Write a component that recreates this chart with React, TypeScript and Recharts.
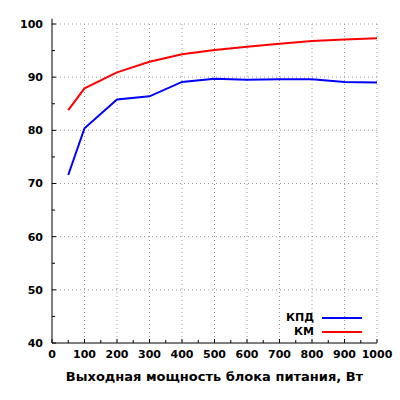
import React from "react";
import {
  LineChart,
  Line,
  XAxis,
  YAxis,
  CartesianGrid,
  ReferenceLine,
} from "recharts";

const POWER = [50, 100, 200, 300, 400, 500, 600, 700, 800, 900, 1000];
const EFFICIENCY = [71.6, 80.4, 85.8, 86.4, 89.1, 89.7, 89.5, 89.6, 89.6, 89.1, 89.0];
const POWER_FACTOR = [83.8, 87.9, 90.9, 92.9, 94.3, 95.1, 95.7, 96.3, 96.8, 97.1, 97.3];

const SERIES = [
  { key: "eff", name: "КПД", color: "#0000ff", values: EFFICIENCY },
  { key: "pf", name: "КМ", color: "#ff0000", values: POWER_FACTOR },
];

const X_TICKS = [0, 50, 100, 150, 200, 250, 300, 350, 400, 450, 500, 550, 600, 650, 700, 750, 800, 850, 900, 950, 1000];
const Y_TICKS = [40, 45, 50, 55, 60, 65, 70, 75, 80, 85, 90, 95, 100];
const X_GRID = [100, 200, 300, 400, 500, 600, 700, 800, 900, 1000];
const Y_GRID = [50, 60, 70, 80, 90, 100];
const X_TITLE = "Выходная мощность блока питания, Вт";

const FONT = "'DejaVu Sans', Verdana, sans-serif";

const data = POWER.map((p, i) => ({
  power: p,
  eff: EFFICIENCY[i],
  pf: POWER_FACTOR[i],
}));

function YTick(props: any) {
  const { x, y, payload } = props;
  const major = payload.value % 10 === 0;
  return (
    <g>
      <line x1={x} x2={x + (major ? 4 : 3)} y1={y} y2={y} stroke="#000" />
      {major && (
        <text
          x={x - 9}
          y={y}
          dy="0.36em"
          textAnchor="end"
          fontFamily={FONT}
          fontWeight="bold"
          fontSize={11}
          fill="#000"
        >
          {payload.value}
        </text>
      )}
    </g>
  );
}

function XTick(props: any) {
  const { x, y, payload } = props;
  const major = payload.value % 100 === 0;
  return (
    <g>
      <line x1={x} x2={x} y1={y} y2={y - (major ? 4 : 3)} stroke="#000" />
      {major && (
        <text
          x={x}
          y={y + 15}
          textAnchor="middle"
          fontFamily={FONT}
          fontWeight="bold"
          fontSize={11}
          fill="#000"
        >
          {payload.value}
        </text>
      )}
    </g>
  );
}

function XTitle(props: any) {
  const vb = props.viewBox;
  return (
    <text
      x={vb.x + vb.width / 2}
      y={vb.y + 38}
      textAnchor="middle"
      fontFamily={FONT}
      fontWeight="bold"
      fontSize={13}
      fill="#000"
    >
      {X_TITLE}
    </text>
  );
}

export default function App() {
  return (
    <div style={{ position: "relative", width: 400, height: 400, background: "#fff" }}>
      <style>{`body{margin:0}`}</style>
      <LineChart
        width={400}
        height={400}
        data={data}
        margin={{ top: 24, right: 23, left: 0, bottom: 0 }}
      >
        <CartesianGrid
          stroke="#999"
          strokeDasharray="1 3"
          horizontalValues={Y_GRID}
          verticalValues={X_GRID}
        />
        <XAxis
          dataKey="power"
          type="number"
          domain={[0, 1000]}
          ticks={X_TICKS}
          interval={0}
          height={57}
          tickSize={0}
          tickMargin={0}
          tickLine={false}
          axisLine={{ stroke: "#000" }}
          tick={<XTick />}
          label={<XTitle />}
        />
        <YAxis
          type="number"
          domain={[40, 100]}
          ticks={Y_TICKS}
          interval={0}
          width={52}
          tickSize={0}
          tickMargin={0}
          tickLine={false}
          axisLine={{ stroke: "#000" }}
          tick={<YTick />}
        />
        <ReferenceLine
          segment={[
            { x: 0, y: 100 },
            { x: 0, y: 101 },
          ]}
          stroke="#000"
          ifOverflow="visible"
        />
        {SERIES.map((s) => (
          <Line
            key={s.key}
            dataKey={s.key}
            name={s.name}
            stroke={s.color}
            strokeWidth={2}
            dot={false}
            activeDot={false}
            isAnimationActive={false}
          />
        ))}
      </LineChart>
      {SERIES.map((s, i) => (
        <div key={s.key}>
          <div
            style={{
              position: "absolute",
              left: 240,
              width: 74,
              top: 311 + i * 14,
              lineHeight: "14px",
              textAlign: "right",
              fontFamily: FONT,
              fontWeight: "bold",
              fontSize: 11,
            }}
          >
            {s.name}
          </div>
          <div
            style={{
              position: "absolute",
              left: 322,
              width: 40,
              top: 317 + i * 14,
              height: 2,
              background: s.color,
            }}
          />
        </div>
      ))}
    </div>
  );
}
